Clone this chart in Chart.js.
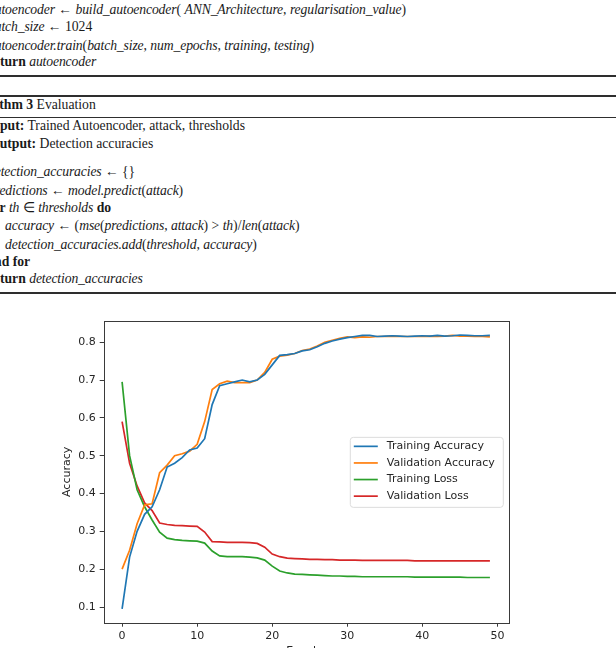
<!DOCTYPE html>
<html>
<head>
<meta charset="utf-8">
<script src="https://cdn.jsdelivr.net/npm/chart.js@4.4.0/dist/chart.umd.min.js"></script>
<style>
  html, body { margin: 0; padding: 0; width: 616px; height: 648px; overflow: hidden; background: #fff; }
  .alg { position: absolute; font-family: "Liberation Serif", serif; font-size: 13.7px; line-height: 18px; color: #1a1a1a; white-space: nowrap; }
  .alg i { letter-spacing: -0.14px; }
  .rule { position: absolute; left: 0; width: 616px; background: #2e2e2e; }
  #chartBox { position: absolute; left: 0; top: 310px; }
</style>
</head>
<body>
<!-- algorithm text above the figure -->
<div class="alg" style="left:-12px;top:1px"><i>autoencoder</i> ← <i>build_autoencoder</i>( <i>ANN_Architecture</i>, <i>regularisation_value</i>)</div>
<div class="alg" style="left:-12px;top:18px"><i>batch_size</i> ← 1024</div>
<div class="alg" style="left:-12px;top:37px"><i>autoencoder.train</i>(<i>batch_size</i>, <i>num_epochs</i>, <i>training</i>, <i>testing</i>)</div>
<div class="alg" style="left:-12px;top:53px"><b>return</b> <i>autoencoder</i></div>
<div class="rule" style="top:75px;height:1.6px"></div>
<div class="rule" style="top:95px;height:1.6px"></div>
<div class="alg" style="left:-38px;top:96px"><b>Algorithm 3</b> Evaluation</div>
<div class="rule" style="top:116.5px;height:1px"></div>
<div class="alg" style="left:-13px;top:117px"><b>Input:</b> Trained Autoencoder, attack, thresholds</div>
<div class="alg" style="left:-11px;top:135px"><b>Output:</b> Detection accuracies</div>
<div class="alg" style="left:-12px;top:163px"><i>detection_accuracies</i> ← {}</div>
<div class="alg" style="left:-12px;top:182px"><i>predictions</i> ← <i>model.predict</i>(<i>attack</i>)</div>
<div class="alg" style="left:-12px;top:199px"><b>for</b> <i>th</i> ∈ <i>thresholds</i> <b>do</b></div>
<div class="alg" style="left:5px;top:217px"><i>accuracy</i> ← (<i>mse</i>(<i>predictions</i>, <i>attack</i>) &gt; <i>th</i>)/<i>len</i>(<i>attack</i>)</div>
<div class="alg" style="left:5px;top:236px"><i>detection_accuracies.add</i>(<i>threshold</i>, <i>accuracy</i>)</div>
<div class="alg" style="left:-12px;top:253px"><b>end for</b></div>
<div class="alg" style="left:-12px;top:270px"><b>return</b> <i>detection_accuracies</i></div>
<div class="rule" style="top:292px;height:1.6px"></div>

<div id="chartBox"><canvas id="lossChart" width="616" height="350"></canvas></div>

<script>
const epochs = [0, 1, 2, 3, 4, 5, 6, 7, 8, 9, 10, 11, 12, 13, 14, 15, 16, 17, 18, 19,
  20, 21, 22, 23, 24, 25, 26, 27, 28, 29, 30, 31, 32, 33, 34, 35, 36, 37, 38, 39,
  40, 41, 42, 43, 44, 45, 46, 47, 48, 49];

const trainAcc = [0.095, 0.232, 0.300, 0.345, 0.365, 0.410, 0.470, 0.480, 0.495, 0.515,
  0.520, 0.545, 0.635, 0.685, 0.690, 0.695, 0.700, 0.695, 0.700, 0.715,
  0.740, 0.765, 0.767, 0.770, 0.777, 0.780, 0.788, 0.797, 0.803, 0.808,
  0.812, 0.815, 0.818, 0.818, 0.815, 0.816, 0.817, 0.816, 0.815, 0.816,
  0.817, 0.816, 0.818, 0.816, 0.817, 0.819, 0.818, 0.817, 0.817, 0.818];

const valAcc = [0.200, 0.250, 0.320, 0.370, 0.373, 0.455, 0.475, 0.500, 0.505, 0.512,
  0.530, 0.590, 0.675, 0.690, 0.697, 0.693, 0.693, 0.693, 0.700, 0.720,
  0.755, 0.763, 0.766, 0.770, 0.778, 0.782, 0.790, 0.800, 0.805, 0.810,
  0.814, 0.812, 0.814, 0.813, 0.815, 0.815, 0.816, 0.815, 0.815, 0.815,
  0.815, 0.816, 0.815, 0.816, 0.818, 0.816, 0.816, 0.815, 0.815, 0.814];

const trainLoss = [0.695, 0.500, 0.410, 0.365, 0.330, 0.298, 0.282, 0.278, 0.276, 0.275,
  0.274, 0.269, 0.248, 0.235, 0.233, 0.233, 0.233, 0.232, 0.230, 0.224,
  0.208, 0.195, 0.190, 0.187, 0.186, 0.185, 0.184, 0.183, 0.182, 0.182,
  0.181, 0.181, 0.180, 0.180, 0.180, 0.180, 0.180, 0.180, 0.180, 0.179,
  0.179, 0.179, 0.179, 0.179, 0.179, 0.179, 0.178, 0.178, 0.178, 0.178];

const valLoss = [0.590, 0.480, 0.420, 0.375, 0.355, 0.322, 0.318, 0.316, 0.315, 0.314,
  0.313, 0.298, 0.273, 0.272, 0.271, 0.271, 0.271, 0.270, 0.268, 0.258,
  0.240, 0.233, 0.229, 0.228, 0.227, 0.226, 0.226, 0.225, 0.225, 0.224,
  0.224, 0.224, 0.223, 0.223, 0.223, 0.223, 0.223, 0.223, 0.223, 0.222,
  0.222, 0.222, 0.222, 0.222, 0.222, 0.222, 0.222, 0.222, 0.222, 0.222];

const seriesNames = ["Training Accuracy", "Validation Accuracy", "Training Loss", "Validation Loss"];
const seriesColors = ["#1f77b4", "#ff7f0e", "#2ca02c", "#d62728"];
const xTicks = [0, 10, 20, 30, 40, 50];
const yTicks = [0.1, 0.2, 0.3, 0.4, 0.5, 0.6, 0.7, 0.8];

const tickFont = { family: "DejaVu Sans", size: 11 };
const textColor = "#262626";

function toPoints(values) {
  return values.map((v, i) => ({ x: epochs[i], y: v }));
}

// frame round the plot + matplotlib style legend at center right
const frameAndLegend = {
  id: "frameAndLegend",
  afterDatasetsDraw(chart) {
    const { ctx, chartArea: a } = chart;
    ctx.save();
    ctx.strokeStyle = "#3a3a3a";
    ctx.lineWidth = 1;
    ctx.strokeRect(Math.round(a.left) + 0.5, Math.round(a.top) + 0.5,
      Math.round(a.right - a.left), Math.round(a.bottom - a.top));

    const w = 153, h = 70;
    const bx = a.right - 5.5 - w;
    const by = (a.top + a.bottom) / 2 - h / 2;
    ctx.beginPath();
    ctx.roundRect(bx + 0.5, by + 0.5, w, h, 3);
    ctx.fillStyle = "rgba(255,255,255,0.8)";
    ctx.fill();
    ctx.strokeStyle = "#dcdcdc";
    ctx.stroke();

    ctx.font = "11px 'DejaVu Sans'";
    ctx.textBaseline = "middle";
    chart.data.datasets.forEach((ds, i) => {
      const cy = by + 9.5 + i * 16.6;
      ctx.strokeStyle = ds.borderColor;
      ctx.lineWidth = 1.7;
      ctx.beginPath();
      ctx.moveTo(bx + 4, cy);
      ctx.lineTo(bx + 28, cy);
      ctx.stroke();
      ctx.fillStyle = textColor;
      ctx.fillText(ds.label, bx + 37, cy);
    });
    ctx.restore();
  },
};

const seriesValues = [trainAcc, valAcc, trainLoss, valLoss];

const ctx = document.getElementById("lossChart").getContext("2d");
const lossChart = new Chart(ctx, {
  type: "line",
  data: {
    datasets: seriesValues.map((vals, i) => ({
      label: seriesNames[i],
      data: toPoints(vals),
      borderColor: seriesColors[i],
      backgroundColor: seriesColors[i],
      borderWidth: 1.7,
      pointRadius: 0,
      tension: 0,
      fill: false,
    })),
  },
  options: {
    responsive: false,
    animation: false,
    devicePixelRatio: 1,
    layout: { padding: { left: 0, right: 107.7, top: 11, bottom: 0 } },
    plugins: {
      legend: { display: false },
      tooltip: { enabled: false },
    },
    scales: {
      x: {
        type: "linear",
        min: -2.45,
        max: 51.45,
        afterBuildTicks: (scale) => { scale.ticks = xTicks.map((v) => ({ value: v })); },
        afterFit: (scale) => { scale.height = 37.3; },
        ticks: { font: tickFont, color: textColor, padding: 3, maxRotation: 0, autoSkip: false },
        grid: { drawOnChartArea: false, drawTicks: true, tickLength: 4, color: "#3a3a3a" },
        border: { display: false },
        title: { display: true, text: "Epochs", font: tickFont, color: textColor, padding: { top: 0, bottom: 2.2 } },
      },
      y: {
        type: "linear",
        min: 0.0585,
        max: 0.856,
        afterBuildTicks: (scale) => { scale.ticks = yTicks.map((v) => ({ value: v })); },
        afterFit: (scale) => { scale.width = 103.7; },
        ticks: { font: tickFont, color: textColor, padding: 4, autoSkip: false, callback: (v) => v.toFixed(1) },
        grid: { drawOnChartArea: false, drawTicks: true, tickLength: 4, color: "#3a3a3a" },
        border: { display: false },
        title: { display: true, text: "Accuracy", font: tickFont, color: textColor, padding: { top: 60.4, bottom: 0 } },
      },
    },
  },
  plugins: [frameAndLegend],
});
</script>
</body>
</html>
